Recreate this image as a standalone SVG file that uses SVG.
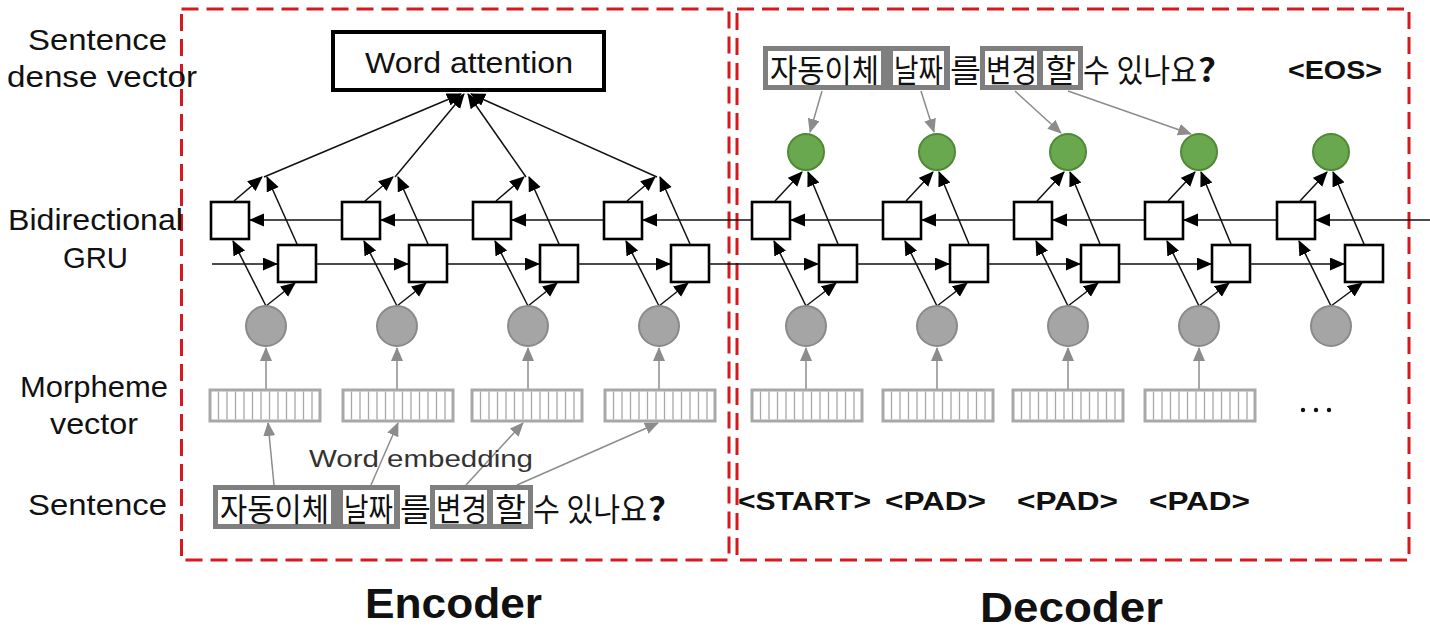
<svg xmlns="http://www.w3.org/2000/svg" xmlns:xlink="http://www.w3.org/1999/xlink" width="1430" height="630" viewBox="0 0 1430 630">
  <style>
    .lbl { font-family: "Liberation Sans", "Noto Sans CJK KR", sans-serif; font-size: 29px; fill: #111; }
    .big { font-family: "Liberation Sans", sans-serif; font-size: 42px; font-weight: bold; fill: #111; }
    .tok { font-family: "Liberation Sans", sans-serif; font-size: 25px; font-weight: bold; fill: #111; }
    .ko { font-family: "Noto Sans CJK KR", "Liberation Sans", sans-serif; font-size: 32px; fill: #111; }
    .q { font-weight: bold; }
    .emb { font-family: "Liberation Sans", sans-serif; font-size: 24px; fill: #333; }
    .frame { fill: none; stroke: #d7191f; stroke-width: 3; stroke-dasharray: 17 8; }
    .cell { fill: #fff; stroke: #000; stroke-width: 2.6; }
    .in { fill: #a5a5a5; stroke: #8a8a8a; stroke-width: 2; }
    .out { fill: #6aa84f; stroke: #4f8a36; stroke-width: 2; }
    .wire { fill: none; stroke: #111; stroke-width: 1.5; marker-end: url(#ah); }
    .wire-g { fill: none; stroke: #8c8c8c; stroke-width: 1.5; marker-end: url(#ahg); }
    .vec-box { fill: #fff; stroke: #a8a8a8; stroke-width: 3; }
    .vec-bar { stroke: #a8a8a8; stroke-width: 1.3; }
    .tokbox { fill: #7f7f7f; }
    .tokin { fill: #fff; }
  </style>
  <defs>
    <marker id="ah" markerUnits="userSpaceOnUse" markerWidth="16" markerHeight="14" refX="14" refY="6.5" orient="auto">
      <path d="M0,0 L15,6.5 L0,13 z" fill="#000"/>
    </marker>
    <marker id="ahg" markerUnits="userSpaceOnUse" markerWidth="16" markerHeight="14" refX="13" refY="6" orient="auto">
      <path d="M0,0 L14,6 L0,12 z" fill="#8c8c8c"/>
    </marker>
    <!-- morpheme vector: a strip of 13 cells, centred on x=0 -->
    <g id="vec">
      <rect class="vec-box" x="-55" y="0" width="110" height="31"/>
      <path class="vec-bar" d="M-46.5,1.5V29.5 M-38,1.5V29.5 M-29.5,1.5V29.5 M-21,1.5V29.5 M-12.5,1.5V29.5 M-4,1.5V29.5 M4.5,1.5V29.5 M13,1.5V29.5 M21.5,1.5V29.5 M30,1.5V29.5 M38.5,1.5V29.5 M47,1.5V29.5"/>
    </g>
    <!-- tokenised sentence with its word groups framed -->
    <g id="sent">
      <rect class="tokbox" x="213" y="485" width="187" height="44"/>
      <rect class="tokin" x="218" y="490" width="113" height="34"/>
      <rect class="tokin" x="343" y="490" width="51" height="34"/>
      <rect class="tokbox" x="430" y="485" width="103" height="44"/>
      <rect class="tokin" x="435" y="490" width="52" height="34"/>
      <rect class="tokin" x="493" y="490" width="35" height="34"/>
      <text class="ko" x="220" y="521" textLength="109" lengthAdjust="spacingAndGlyphs">자동이체</text>
      <text class="ko" x="344" y="521" textLength="49" lengthAdjust="spacingAndGlyphs">날짜</text>
      <text class="ko" x="400" y="521" textLength="31" lengthAdjust="spacingAndGlyphs">를</text>
      <text class="ko" x="436" y="521" textLength="51" lengthAdjust="spacingAndGlyphs">변경</text>
      <text class="ko" x="495" y="521" textLength="31" lengthAdjust="spacingAndGlyphs">할</text>
      <text class="ko" x="533" y="521" textLength="114" lengthAdjust="spacingAndGlyphs">수 있나요</text>
      <text class="ko q" x="648" y="521" textLength="18" lengthAdjust="spacingAndGlyphs">?</text>
    </g>
  </defs>

  <rect width="1430" height="630" fill="#fff"/>

  <!-- section frames -->
  <g id="encoder-frame">
    <rect class="frame" x="181.5" y="9" width="547.5" height="551"/>
    <text class="big" x="365" y="618" textLength="177" lengthAdjust="spacingAndGlyphs">Encoder</text>
  </g>
  <g id="decoder-frame">
    <rect class="frame" x="737" y="9" width="672" height="551"/>
    <text class="big" x="980" y="622" textLength="183" lengthAdjust="spacingAndGlyphs">Decoder</text>
  </g>

  <!-- row labels -->
  <g id="row-labels">
    <text class="lbl" x="28" y="50" textLength="139" lengthAdjust="spacingAndGlyphs">Sentence</text>
    <text class="lbl" x="7" y="87" textLength="190" lengthAdjust="spacingAndGlyphs">dense vector</text>
    <text class="lbl" x="8" y="230" textLength="175" lengthAdjust="spacingAndGlyphs">Bidirectional</text>
    <text class="lbl" x="63" y="268" textLength="65" lengthAdjust="spacingAndGlyphs">GRU</text>
    <text class="lbl" x="20" y="397" textLength="148" lengthAdjust="spacingAndGlyphs">Morpheme</text>
    <text class="lbl" x="50" y="434" textLength="88" lengthAdjust="spacingAndGlyphs">vector</text>
    <text class="lbl" x="28" y="515" textLength="139" lengthAdjust="spacingAndGlyphs">Sentence</text>
  </g>

  <!-- connectors -->
  <g id="connectors">
    <!-- encoder columns: input -> GRU cells -> merge point -->
    <path class="wire" d="M266,306 L233,241"/>
    <path class="wire" d="M266,306 L295,283"/>
    <path class="wire" d="M234,201 L262,177"/>
    <path class="wire" d="M297,244 L267,177"/>
    <path class="wire" d="M397,306 L364,241"/>
    <path class="wire" d="M397,306 L426,283"/>
    <path class="wire" d="M365,201 L393,177"/>
    <path class="wire" d="M428,244 L398,177"/>
    <path class="wire" d="M528,306 L495,241"/>
    <path class="wire" d="M528,306 L557,283"/>
    <path class="wire" d="M496,201 L524,177"/>
    <path class="wire" d="M559,244 L529,177"/>
    <path class="wire" d="M659,306 L626,241"/>
    <path class="wire" d="M659,306 L688,283"/>
    <path class="wire" d="M627,201 L655,177"/>
    <path class="wire" d="M690,244 L660,177"/>
    <!-- merge points -> word attention -->
    <path class="wire" d="M264,177 L461,94"/>
    <path class="wire" d="M395,177 L464,94"/>
    <path class="wire" d="M526,177 L468,94"/>
    <path class="wire" d="M657,177 L471,94"/>

    <!-- decoder columns -->
    <path class="wire" d="M806,306 L774,241"/>
    <path class="wire" d="M806,306 L836,283"/>
    <path class="wire" d="M775,201 L802,172"/>
    <path class="wire" d="M838,244 L808,172"/>
    <path class="wire" d="M937,306 L905,241"/>
    <path class="wire" d="M937,306 L967,283"/>
    <path class="wire" d="M906,201 L933,172"/>
    <path class="wire" d="M969,244 L939,172"/>
    <path class="wire" d="M1068,306 L1036,241"/>
    <path class="wire" d="M1068,306 L1098,283"/>
    <path class="wire" d="M1037,201 L1064,172"/>
    <path class="wire" d="M1100,244 L1070,172"/>
    <path class="wire" d="M1199,306 L1167,241"/>
    <path class="wire" d="M1199,306 L1229,283"/>
    <path class="wire" d="M1168,201 L1195,172"/>
    <path class="wire" d="M1231,244 L1201,172"/>
    <path class="wire" d="M1331,306 L1299,241"/>
    <path class="wire" d="M1331,306 L1362,283"/>
    <path class="wire" d="M1300,201 L1327,172"/>
    <path class="wire" d="M1364,244 L1333,172"/>

    <!-- backward GRU chain (right to left) -->
    <path class="wire" d="M1430,220 L1316,220"/>
    <path class="wire" d="M1277,220 L1184,220"/>
    <path class="wire" d="M1145,220 L1053,220"/>
    <path class="wire" d="M1014,220 L922,220"/>
    <path class="wire" d="M883,220 L791,220"/>
    <path class="wire" d="M751,220 L643,220"/>
    <path class="wire" d="M604,220 L512,220"/>
    <path class="wire" d="M473,220 L381,220"/>
    <path class="wire" d="M342,220 L250,220"/>

    <!-- forward GRU chain (left to right) -->
    <path class="wire" d="M212,264 L277,264"/>
    <path class="wire" d="M317,264 L408,264"/>
    <path class="wire" d="M448,264 L539,264"/>
    <path class="wire" d="M579,264 L670,264"/>
    <path class="wire" d="M710,264 L818,264"/>
    <path class="wire" d="M858,264 L949,264"/>
    <path class="wire" d="M989,264 L1080,264"/>
    <path class="wire" d="M1120,264 L1211,264"/>
    <path class="wire" d="M1251,264 L1344,264"/>

    <!-- morpheme vectors -> input nodes -->
    <path class="wire-g" d="M266,390 L266,348"/>
    <path class="wire-g" d="M397,390 L397,348"/>
    <path class="wire-g" d="M528,390 L528,348"/>
    <path class="wire-g" d="M659,390 L659,348"/>
    <path class="wire-g" d="M806,390 L806,348"/>
    <path class="wire-g" d="M937,390 L937,348"/>
    <path class="wire-g" d="M1068,390 L1068,348"/>
    <path class="wire-g" d="M1199,390 L1199,348"/>

    <!-- word embedding: sentence tokens -> morpheme vectors -->
    <path class="wire-g" d="M274,485 L268,423"/>
    <path class="wire-g" d="M371,485 L398,423"/>
    <path class="wire-g" d="M466,485 L523,423"/>
    <path class="wire-g" d="M517,485 L658,423"/>

    <!-- target tokens -> decoder outputs -->
    <path class="wire-g" d="M822,91 L810,132"/>
    <path class="wire-g" d="M921,91 L934,132"/>
    <path class="wire-g" d="M1015,91 L1061,133"/>
    <path class="wire-g" d="M1068,91 L1191,134"/>
  </g>

  <!-- word attention -->
  <g id="word-attention">
    <rect x="333" y="32" width="271" height="58" fill="#fff" stroke="#000" stroke-width="4"/>
    <text class="lbl" x="365" y="73" textLength="208" lengthAdjust="spacingAndGlyphs">Word attention</text>
  </g>

  <!-- encoder GRU cells -->
  <g id="enc-bwd-1"><rect class="cell" x="211" y="202" width="38" height="37"/></g>
  <g id="enc-bwd-2"><rect class="cell" x="342" y="202" width="38" height="37"/></g>
  <g id="enc-bwd-3"><rect class="cell" x="473" y="202" width="38" height="37"/></g>
  <g id="enc-bwd-4"><rect class="cell" x="604" y="202" width="38" height="37"/></g>
  <g id="enc-fwd-1"><rect class="cell" x="278" y="245" width="38" height="37"/></g>
  <g id="enc-fwd-2"><rect class="cell" x="409" y="245" width="38" height="37"/></g>
  <g id="enc-fwd-3"><rect class="cell" x="540" y="245" width="38" height="37"/></g>
  <g id="enc-fwd-4"><rect class="cell" x="671" y="245" width="38" height="37"/></g>

  <!-- decoder GRU cells -->
  <g id="dec-bwd-1"><rect class="cell" x="752" y="202" width="38" height="37"/></g>
  <g id="dec-bwd-2"><rect class="cell" x="883" y="202" width="38" height="37"/></g>
  <g id="dec-bwd-3"><rect class="cell" x="1014" y="202" width="38" height="37"/></g>
  <g id="dec-bwd-4"><rect class="cell" x="1145" y="202" width="38" height="37"/></g>
  <g id="dec-bwd-5"><rect class="cell" x="1277" y="202" width="38" height="37"/></g>
  <g id="dec-fwd-1"><rect class="cell" x="819" y="245" width="38" height="37"/></g>
  <g id="dec-fwd-2"><rect class="cell" x="950" y="245" width="38" height="37"/></g>
  <g id="dec-fwd-3"><rect class="cell" x="1081" y="245" width="38" height="37"/></g>
  <g id="dec-fwd-4"><rect class="cell" x="1212" y="245" width="38" height="37"/></g>
  <g id="dec-fwd-5"><rect class="cell" x="1345" y="245" width="38" height="37"/></g>

  <!-- input nodes -->
  <g id="enc-in-1"><circle class="in" cx="266" cy="326" r="20"/></g>
  <g id="enc-in-2"><circle class="in" cx="397" cy="326" r="20"/></g>
  <g id="enc-in-3"><circle class="in" cx="528" cy="326" r="20"/></g>
  <g id="enc-in-4"><circle class="in" cx="659" cy="326" r="20"/></g>
  <g id="dec-in-1"><circle class="in" cx="806" cy="326" r="20"/></g>
  <g id="dec-in-2"><circle class="in" cx="937" cy="326" r="20"/></g>
  <g id="dec-in-3"><circle class="in" cx="1068" cy="326" r="20"/></g>
  <g id="dec-in-4"><circle class="in" cx="1199" cy="326" r="20"/></g>
  <g id="dec-in-5"><circle class="in" cx="1331" cy="326" r="20"/></g>

  <!-- decoder output nodes -->
  <g id="dec-out-1"><circle class="out" cx="806" cy="152" r="18"/></g>
  <g id="dec-out-2"><circle class="out" cx="937" cy="152" r="18"/></g>
  <g id="dec-out-3"><circle class="out" cx="1068" cy="152" r="18"/></g>
  <g id="dec-out-4"><circle class="out" cx="1199" cy="152" r="18"/></g>
  <g id="dec-out-5"><circle class="out" cx="1331" cy="152" r="18"/></g>

  <!-- morpheme vectors -->
  <g id="enc-vec-1"><use href="#vec" x="265" y="390"/></g>
  <g id="enc-vec-2"><use href="#vec" x="398" y="390"/></g>
  <g id="enc-vec-3"><use href="#vec" x="527" y="390"/></g>
  <g id="enc-vec-4"><use href="#vec" x="660" y="390"/></g>
  <g id="dec-vec-1"><use href="#vec" x="807" y="390"/></g>
  <g id="dec-vec-2"><use href="#vec" x="938" y="390"/></g>
  <g id="dec-vec-3"><use href="#vec" x="1068" y="390"/></g>
  <g id="dec-vec-4"><use href="#vec" x="1200" y="390"/></g>
  <g id="dec-vec-more">
    <circle cx="1303" cy="410" r="2.2" fill="#111"/>
    <circle cx="1316" cy="410" r="2.2" fill="#111"/>
    <circle cx="1329" cy="410" r="2.2" fill="#111"/>
  </g>

  <!-- source sentence and embedding label -->
  <g id="enc-sentence"><use href="#sent"/></g>
  <g id="embedding-label">
    <text class="emb" x="309" y="467" textLength="224" lengthAdjust="spacingAndGlyphs">Word embedding</text>
  </g>

  <!-- decoder targets and inputs -->
  <g id="dec-target"><use href="#sent" x="550" y="-439"/></g>
  <g id="dec-eos"><text class="tok" x="1288" y="79" textLength="94" lengthAdjust="spacingAndGlyphs">&lt;EOS&gt;</text></g>
  <g id="dec-tok-1"><text class="tok" x="738" y="510" textLength="133" lengthAdjust="spacingAndGlyphs">&lt;START&gt;</text></g>
  <g id="dec-tok-2"><text class="tok" x="885" y="510" textLength="101" lengthAdjust="spacingAndGlyphs">&lt;PAD&gt;</text></g>
  <g id="dec-tok-3"><text class="tok" x="1017" y="510" textLength="101" lengthAdjust="spacingAndGlyphs">&lt;PAD&gt;</text></g>
  <g id="dec-tok-4"><text class="tok" x="1149" y="510" textLength="101" lengthAdjust="spacingAndGlyphs">&lt;PAD&gt;</text></g>
</svg>
